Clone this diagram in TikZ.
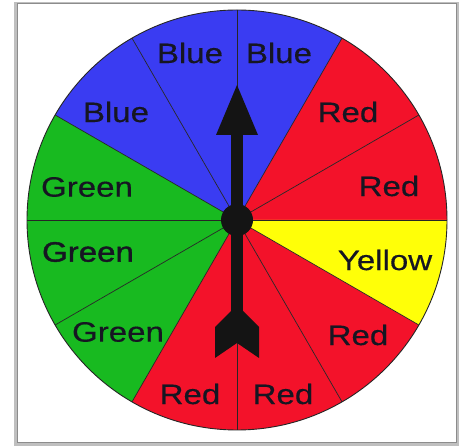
\documentclass[tikz,border=0pt]{standalone}
\usepackage{fontspec}
\newfontfamily\spinfont[FakeStretch=1.18,FakeBold=0.4]{Liberation Sans}
\newfontfamily\spinfontb[FakeStretch=1.18,FakeBold=1.4]{Liberation Sans}
\definecolor{sblue}{RGB}{58,60,242}
\definecolor{sred}{RGB}{243,18,42}
\definecolor{sgreen}{RGB}{24,186,32}
\definecolor{syellow}{RGB}{255,255,8}
\definecolor{stext}{RGB}{22,22,34}
\tikzset{
  lbl/.style={font=\spinfont\fontsize{28}{30}\selectfont, text=stext, inner sep=0pt},
  lblb/.style={font=\spinfontb\fontsize{28}{30}\selectfont, text=stext, inner sep=0pt},
  divider/.style={draw=black!85, line width=0.7pt},
  pointer/.style={fill=black!92, draw=none}
}
\begin{document}
\begin{tikzpicture}[x=1pt,y=1pt]
\useasboundingbox (0,0) rectangle (466,447);
% frame
\fill[black!25] (14,1) rectangle (459,445);
\fill[white,draw=black!45,line width=1pt] (17,4) rectangle (456,443);
\coordinate (c) at (237,227);
\def\R{210}
% sectors
\foreach \a/\col in {0/sred,30/sred,60/sblue,90/sblue,120/sblue,150/sgreen,180/sgreen,210/sgreen,240/sred,270/sred,300/sred,330/syellow}{
  \fill[\col] (c) -- ++(\a:\R) arc[start angle=\a, end angle=\a+30, radius=\R] -- cycle;
}
\foreach \a in {0,30,...,330}{
  \draw[divider] (c) -- ++(\a:\R);
}
\draw[black!85, line width=0.9pt] (c) circle[radius=\R];
% labels
\node[lbl] (blue1) at (190,394) {Blue};
\node[lbl] (blue2) at (279,394) {Blue};
\node[lbl] (blue3) at (116,335) {Blue};
\node[lbl] (red1) at (348,335) {Red};
\node[lbl] (red2) at (389,261) {Red};
\node[lbl] (green1) at (87,260) {Green};
\node[lblb] (green2) at (88,195) {Green};
\node[lbl] (yellow) at (385,187) {Yellow};
\node[lbl] (green3) at (118,115) {Green};
\node[lbl] (red3) at (358,112) {Red};
\node[lbl] (red4) at (190,53) {Red};
\node[lbl] (red5) at (283,53) {Red};
% pointer
\fill[pointer] (231,135) rectangle (243,314);
\fill[pointer] (237,362) -- (258,312) -- (216,312) -- cycle;
\fill[pointer] (231,136) -- (215,120) -- (215,89) -- (237,104) -- (259,89) -- (259,120) -- (243,136) -- cycle;
\fill[pointer] (c) circle[radius=16];
\end{tikzpicture}
\end{document}
